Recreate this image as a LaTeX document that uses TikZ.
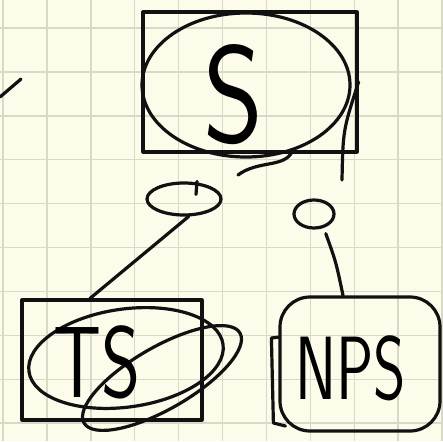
\documentclass[tikz,border=0pt]{standalone}
\usetikzlibrary{shapes.geometric,positioning}
\definecolor{Paper}{HTML}{FDFBEA}
\definecolor{Grid}{HTML}{DAD9C7}
\definecolor{Ink}{HTML}{111111}

\begin{document}
\begin{tikzpicture}[x=1pt,y=-1pt,
  ink/.style={draw=Ink,line width=3.2pt,line cap=round,line join=round},
  gridln/.style={Grid,line width=1.4pt},
  hand/.style={font=\sffamily\fontsize{#1}{#1}\selectfont,inner sep=0pt}]
  % paper and grid
  \fill[Paper] (0,0) rectangle (443,441);
  \useasboundingbox (0,0) rectangle (443,441);
  \foreach \i in {0,...,10} \draw[gridln] ({3+43.9*\i},0) -- ++(0,441);
  \foreach \j in {0,...,9} \draw[gridln] (0,{28+43.9*\j}) -- ++(443,0);
  % root S
  \node[ink,minimum width=214,minimum height=140] (sBox) at (250,82) {};
  \node[ink,ellipse,minimum width=208,minimum height=144] (sCirc) at (246,85) {};
  \node[hand=115,yscale=1.2] (sLbl) at (234,95) {S};
  \coordinate (sTail) at (342,180);
  \coordinate (sLoop) at (238,175);
  \draw[ink] (sBox.east) .. controls (343,130) .. (sTail);
  \draw[ink] (sLoop) .. controls (258,160) and (285,168) .. (sCirc.-55);
  % the two small ovals
  \node[ink,ellipse,inner sep=0,minimum width=74,minimum height=32] (lEdge) at (184,199) {};
  \draw[ink] ([xshift=13pt]lEdge.north) -- ++(-1,13);
  \node[ink,ellipse,inner sep=0,minimum width=40,minimum height=28] (rEdge) at (314,214) {};
  % TS
  \node[ink,minimum width=180,minimum height=120] (tsBox) at (112,360) {};
  \node[ink,ellipse,minimum width=196,minimum height=98,rotate=8] (tsCirc) at (126,358) {};
  \node[ink,ellipse,minimum width=180,minimum height=62,rotate=30] (tsLoop) at (162,378) {};
  \node[hand=75,yscale=1.35] (tsLbl) at (97,362) {TS};
  % NPS
  \node[ink,rounded corners=30,minimum width=160,minimum height=134] (npsBox) at (360,364) {};
  \draw[ink] (npsBox.west) ++(1,-27) -- ++(-8,1) -- ++(2,85) -- ++(12,3);
  \node[hand=62,yscale=1.45] (npsLbl) at (351,368) {NPS};
  % links
  \draw[ink] (lEdge.-75) -- ([xshift=-22pt]tsBox.north);
  \draw[ink,shorten <=6pt] (rEdge.-55) .. controls (336,262) .. ([xshift=-17pt]npsBox.north);
  \coordinate (stray) at (21,79);
  \draw[ink] (0,97) -- (stray);
\end{tikzpicture}
\end{document}
